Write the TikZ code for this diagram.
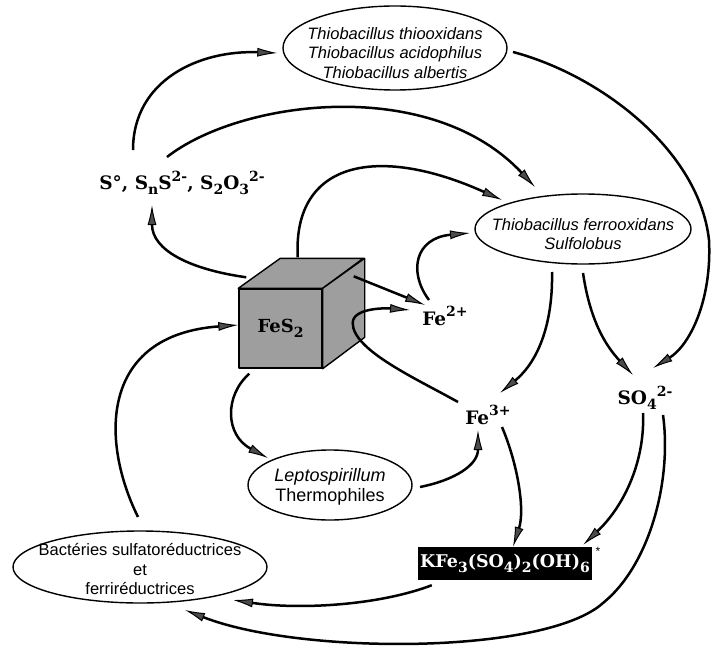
\documentclass[tikz,border=0pt]{standalone}
\usepackage{fontspec}
\setsansfont{Liberation Sans}
\newfontfamily\chemfont{DejaVu Serif}
\usetikzlibrary{shapes.geometric,arrows.meta}
\newcommand\ionup[1]{\raisebox{0.45em}{\fontsize{14}{14}\selectfont #1}}
\newcommand\iondn[1]{\raisebox{-0.28em}{\fontsize{14}{14}\selectfont #1}}

\begin{document}
\begin{tikzpicture}[x=1pt,y=1pt,
	bug/.style={ellipse,draw,line width=1.4pt,inner sep=0pt},
	bugtext/.style={align=center,font=\sffamily\fontsize{16.5}{19.5}\selectfont},
	ion/.style={font=\chemfont\bfseries\fontsize{18.5}{20}\selectfont,inner sep=1pt},
	face/.style={draw,line width=1.4pt,fill=black!38,line join=round},
	flux/.style={line width=2.5pt,-{Latex[length=20pt,width=9pt,line width=1pt,fill=black!70]}}]
	\useasboundingbox (0,0) rectangle (711,-647);
	\node[bug,minimum width=224pt,minimum height=84pt] (thio) at (395,-48) {};
	\node[bugtext] (thio-txt) at ([yshift=-5pt]thio.center) {\itshape Thiobacillus thiooxidans\\\itshape Thiobacillus acidophilus\\\itshape Thiobacillus albertis};
	\node[bug,minimum width=216pt,minimum height=70pt] (ferro) at (583,-229) {};
	\node[bugtext] (ferro-txt) at ([yshift=-5pt]ferro.center) {\itshape Thiobacillus ferrooxidans\\\itshape Sulfolobus};
	\node[bug,minimum width=164pt,minimum height=70pt] (lepto) at (330,-485) {};
	\node[bugtext,font=\sffamily\fontsize{18}{19.5}\selectfont] (lepto-txt) at ([yshift=-2pt]lepto.center) {\itshape Leptospirillum\\Thermophiles};
	\node[bug,minimum width=254pt,minimum height=72pt] (bact) at (140,-567) {};
	\node[bugtext] (bact-txt) at ([yshift=-2pt]bact.center) {Bactéries sulfatoréductrices\\et\\ferriréductrices};
	\node[face,minimum width=83pt,minimum height=79pt,inner sep=0pt,font=\chemfont\bfseries\fontsize{18}{19}\selectfont] (fes) at (280.5,-328.5) {FeS\iondn{2}};
	\draw[face] (fes.north west) -- ++(42,30) -- ++(83,0) -- (fes.north east) -- cycle;
	\draw[face] (fes.north east) -- ++(42,30) -- ++(0,-79) -- (fes.south east) -- cycle;
	\node[ion] (sul) at (182,-183) {S°, S\iondn{n}S\ionup{2-}, S\iondn{2}O\iondn{3}\ionup{2-}};
	\node[ion] (fe2) at (445,-316) {Fe\ionup{2+}};
	\node[ion] (fe3) at (488,-415) {Fe\ionup{3+}};
	\node[ion] (so4) at (645,-398) {SO\iondn{4}\ionup{2-}};
	\node[ion,font=\chemfont\bfseries\fontsize{17.5}{19}\selectfont,fill=black,text=white,minimum width=174pt,minimum height=33pt,inner sep=0pt] (jar) at (505,-563.5) {KFe\iondn{3}(SO\iondn{4})\iondn{2}(OH)\iondn{6}};
	\node[font=\sffamily\fontsize{12}{12}\selectfont] (star) at (598,-551) {*};
	\coordinate (rim) at (709,-240);
	\coordinate (dip) at (603,-603);
	\draw[flux] ([shift={(-49,33)}]sul.center) .. controls +(0,70) and +(-78,3) .. ([shift={(-5,-5)}]thio.west);
	\draw[flux] ([shift={(-15,26)}]sul.center) .. controls +(73,57) and +(-105,112) .. ([shift={(-48,42)}]ferro.center);
	\draw[flux] ([shift={(8,11)}]fes.north west) .. controls +(-57,8) and +(0,-45) .. ([shift={(-30,-22)}]sul.center);
	\draw[flux] ([shift={(-25,31)}]fes.north east) .. controls +(-5,98) and +(-122,55) .. ([shift={(-81,29)}]ferro.center);
	\draw[flux] ([shift={(31,12)}]fes.north east) -- ([shift={(-20,11)}]fe2.center);
	\draw[flux] ([shift={(-30,13)}]fe3.center) .. controls +(-43,24) and +(0,-27) .. ([shift={(30,5.5)}]fes.east)
		.. controls +(0,15) and +(-25,2) .. ([shift={(-35,6)}]fe2.center);
	\draw[flux] ([shift={(-16,16)}]fe2.center) .. controls +(-21,28) and +(-55,-5) .. ([shift={(-113,-4)}]ferro.center);
	\draw[flux] ([shift={(-31,-43)}]ferro.center) .. controls +(1,-48) and +(40,33) .. ([shift={(12,22)}]fe3.center);
	\draw[flux] ([shift={(0,-44)}]ferro.center) .. controls +(7,-47) and +(-28,30) .. ([shift={(-12,23)}]so4.center);
	\draw[flux] ([shift={(118,-4)}]thio.center) .. controls +(87,-23) and +(-10,90) .. (rim)
		.. controls +(3,-60) and +(37,23) .. ([shift={(8,30)}]so4.center);
	\draw[flux] ([shift={(11,-5)}]fes.south west) .. controls +(-25,-22) and +(-43,23) .. ([shift={(-62,27)}]lepto.center);
	\draw[flux] ([shift={(90,-2)}]lepto.center) .. controls +(35,7) and +(0,-35) .. ([shift={(-10,-15)}]fe3.center);
	\draw[flux] ([shift={(14,-12)}]fe3.center) .. controls +(16,-38) and +(12,37) .. ([shift={(8,0)}]jar.north);
	\draw[flux] ([shift={(-2,-15)}]so4.center) .. controls +(2,-47) and +(42,40) .. ([shift={(-9,2)}]jar.north east);
	\draw[flux] ([shift={(14,-5)}]jar.south west) .. controls +(-52,-20) and +(67,-10) .. ([shift={(93,-33)}]bact.center);
	\draw[flux] ([shift={(18,-17)}]so4.center) .. controls +(9,-65) and +(47,38) .. (dip)
		.. controls +(-58,-52) and +(115,-45) .. ([shift={(45,-43)}]bact.center);
	\draw[flux] ([shift={(-2,50)}]bact.center) .. controls +(-38,77) and +(-138,-10) .. ([shift={(0,3.5)}]fes.west);
\end{tikzpicture}
\end{document}
